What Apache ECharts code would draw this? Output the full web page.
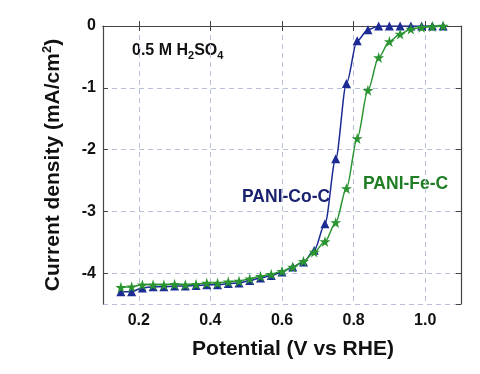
<!DOCTYPE html>
<html><head><meta charset="utf-8">
<script src="https://cdn.jsdelivr.net/npm/echarts@6/dist/echarts.min.js"></script>
<style>html,body{margin:0;padding:0;background:#fff}#c{width:480px;height:374px}</style>
</head><body><div id="c"></div>
<script>
const potential = [0.15,0.18,0.21,0.24,0.27,0.30,0.33,0.36,0.39,0.42,0.45,0.48,0.51,0.54,0.57,0.60,0.63,0.66,0.69,0.72,0.75,0.78,0.81,0.84,0.87,0.90,0.93,0.96,0.99,1.02,1.05];
const coValues = [-4.30,-4.30,-4.24,-4.22,-4.22,-4.21,-4.21,-4.20,-4.19,-4.19,-4.17,-4.16,-4.12,-4.08,-4.04,-3.98,-3.90,-3.82,-3.63,-3.20,-2.15,-0.93,-0.24,-0.06,0,0,0,0,0,0,0];
const feValues = [-4.23,-4.22,-4.19,-4.19,-4.19,-4.18,-4.19,-4.18,-4.16,-4.16,-4.14,-4.13,-4.09,-4.05,-4.02,-3.97,-3.90,-3.81,-3.66,-3.49,-3.18,-2.63,-1.82,-1.04,-0.51,-0.25,-0.13,-0.05,-0.02,-0.01,0];
const xTicks = [0.2,0.4,0.6,0.8,1.0];
const yTicks = [0,-1,-2,-3,-4];

const chart = echarts.init(document.getElementById('c'));
const font = 'Liberation Sans, Arial, sans-serif';
const frame = '#444';
const gridLine = {show:true, lineStyle:{color:'#b9c0da', type:[5,4], width:1}};
const isTick = (arr,v)=>arr.some(t=>Math.abs(t-v)<1e-6);
chart.setOption({
  animation:false,
  grid:{left:103, right:19, top:26, bottom:70},
  xAxis:[{
    type:'value', min:0.1, max:1.1, splitNumber:5,
    name:'Potential (V vs RHE)', nameLocation:'middle', nameGap:35,
    nameTextStyle:{fontFamily:font, fontWeight:'bold', fontSize:21, color:'#111', padding:[0,0,0,22]},
    axisLine:{show:true, lineStyle:{color:frame, width:1.2}},
    axisTick:{show:true, inside:true, length:5, lineStyle:{color:frame}},
    axisLabel:{showMinLabel:false, showMaxLabel:false, margin:9, fontFamily:font, fontWeight:'bold', fontSize:16, color:'#111',
      formatter:v=>isTick(xTicks,v)?v.toFixed(1):''},
    splitLine:gridLine
  },{
    type:'value', position:'top', min:0.1, max:1.1, splitNumber:5,
    axisLine:{show:true, lineStyle:{color:frame, width:1.2}},
    axisTick:{show:true, inside:true, length:5, lineStyle:{color:frame}},
    axisLabel:{show:false}, splitLine:{show:false}
  }],
  yAxis:[{
    type:'value', min:-4.5, max:0, splitNumber:5,
    name:'{a|Current density (mA/cm}{s|2}{a|)}', nameLocation:'middle', nameGap:38,
    nameTextStyle:{rich:{
      a:{fontFamily:font, fontWeight:'bold', fontSize:21, color:'#111'},
      s:{fontFamily:font, fontWeight:'bold', fontSize:13, color:'#111', padding:[0,0,11,0]}
    }},
    axisLine:{show:true, lineStyle:{color:frame, width:1.2}},
    axisTick:{show:true, inside:true, length:5, lineStyle:{color:frame}},
    axisLabel:{showMinLabel:false, margin:7, fontFamily:font, fontWeight:'bold', fontSize:16, color:'#111',
      formatter:v=>isTick(yTicks,v)?String(Math.round(v)):''},
    splitLine:gridLine
  },{
    type:'value', position:'right', min:-4.5, max:0, splitNumber:5,
    axisLine:{show:true, lineStyle:{color:frame, width:1.2}},
    axisTick:{show:true, inside:true, length:5, lineStyle:{color:frame}},
    axisLabel:{show:false}, splitLine:{show:false}
  }],
  series:[{
    name:'PANI-Fe-C', type:'line', smooth:0.3, smoothMonotone:'x',
    data:potential.map((x,i)=>[x,feValues[i]]),
    symbol:'path://M50,0 L61,35 L98,35 L68,57 L79,91 L50,70 L21,91 L32,57 L2,35 L39,35 Z',
    symbolSize:11,
    lineStyle:{color:'#2a9430', width:1.5}, itemStyle:{color:'#2a9430'}, z:3
  },{
    name:'PANI-Co-C', type:'line', smooth:0.3, smoothMonotone:'x',
    data:potential.map((x,i)=>[x,coValues[i]]),
    symbol:'triangle', symbolSize:9,
    lineStyle:{color:'#1c2b94', width:1.5}, itemStyle:{color:'#1c2b94'}, z:2
  }],
  graphic:[
    {type:'text', left:132, top:43, style:{
      text:'{a|0.5 M H}{b|2}{a|SO}{b|4}',
      rich:{a:{fontFamily:font, fontWeight:'bold', fontSize:16, fill:'#111'},
            b:{fontFamily:font, fontWeight:'bold', fontSize:11, fill:'#111', padding:[9,0,0,0]}}}},
    {type:'text', left:242, top:188, style:{text:'PANI-Co-C', fontFamily:font, fontWeight:'bold', fontSize:17.5, fill:'#1a2270'}},
    {type:'text', left:363, top:175, style:{text:'PANI-Fe-C', fontFamily:font, fontWeight:'bold', fontSize:17.5, fill:'#1f7d24'}}
  ]
});
</script></body></html>
